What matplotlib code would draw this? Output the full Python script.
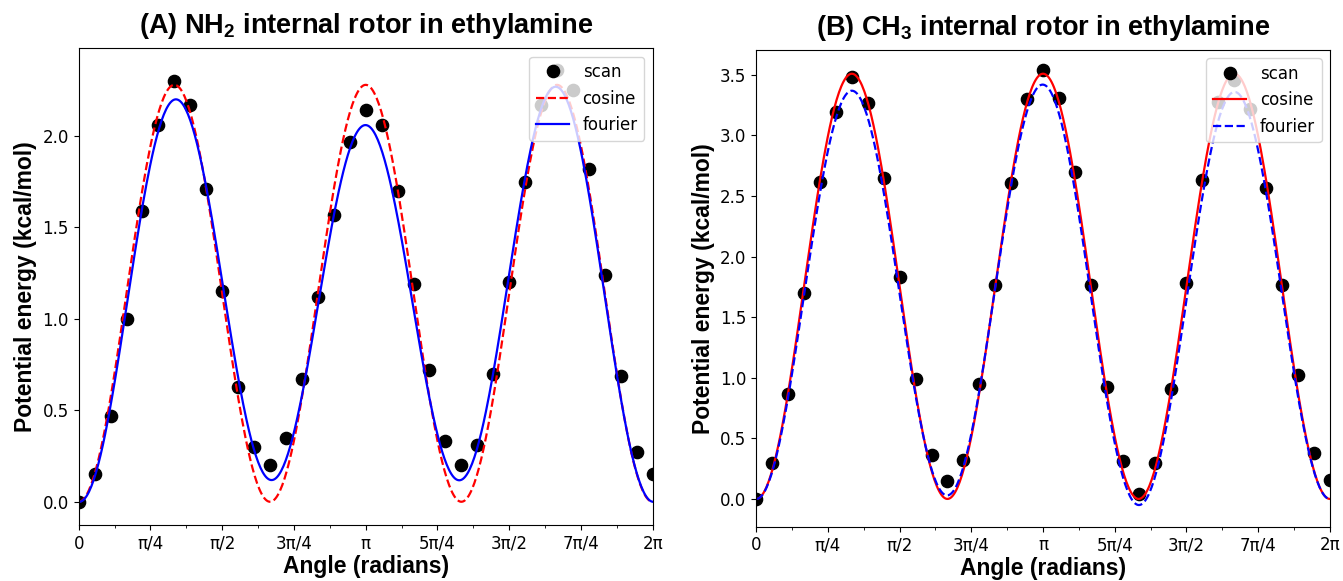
import numpy as np
import matplotlib
matplotlib.use("Agg")
import matplotlib.pyplot as plt

# 1. Torsional scans (kcal/mol), one point every 10 degrees from 0 to 360
scan_deg = np.arange(0, 370, 10)

nh2_scan = [0.00, 0.15, 0.47, 1.00, 1.59, 2.06, 2.30, 2.17, 1.71, 1.15,
            0.63, 0.30, 0.20, 0.35, 0.67, 1.12, 1.57, 1.97, 2.14, 2.06,
            1.70, 1.19, 0.72, 0.33, 0.20, 0.31, 0.70, 1.20, 1.75, 2.17,
            2.36, 2.25, 1.82, 1.24, 0.69, 0.27, 0.15]

ch3_scan = [0.00, 0.30, 0.87, 1.70, 2.62, 3.19, 3.48, 3.27, 2.65, 1.83,
            0.99, 0.36, 0.15, 0.32, 0.95, 1.77, 2.61, 3.30, 3.54, 3.31,
            2.70, 1.77, 0.92, 0.31, 0.04, 0.30, 0.91, 1.78, 2.63, 3.28,
            3.46, 3.22, 2.57, 1.77, 1.02, 0.38, 0.16]

# 2. Fitted models: cosine barrier height V0 (3-fold) and fourier coefficients
nh2_V0 = 2.28
ch3_V0 = 3.51
# V = sum a_k cos(k x) + b_k sin(k x), k = 0..3
nh2_fourier_a = [1.128, 0.018, -0.098, -1.048]
nh2_fourier_b = [0.0, -0.020, -0.020, 0.0]
ch3_fourier_a = [1.688, -0.015, 0.022, -1.695]
ch3_fourier_b = [0.0, 0.026, -0.020, 0.0]

tick_vals = np.arange(0, 9) * np.pi / 4
tick_labels = ['0', 'π/4', 'π/2', '3π/4', 'π', '5π/4', '3π/2', '7π/4', '2π']


def cosine_model(x, V0):
    return 0.5 * V0 * (1 - np.cos(3 * x))


def fourier_model(x, a, b):
    v = np.zeros_like(x)
    for k in range(len(a)):
        v += a[k] * np.cos(k * x) + b[k] * np.sin(k * x)
    return v


bold_font = {'family': 'Liberation Sans', 'weight': 'bold'}
plt.rcParams['mathtext.fontset'] = 'custom'
plt.rcParams['mathtext.rm'] = 'Liberation Sans:bold'
plt.rcParams['mathtext.default'] = 'rm'

fig = plt.figure(figsize=(13.43, 5.81), dpi=100)
ax1 = fig.add_axes([0.0586, 0.0964, 0.4274, 0.8205])
ax2 = fig.add_axes([0.5631, 0.0935, 0.4271, 0.8205])

x = np.linspace(0, 2 * np.pi, 500)
scan_rad = np.deg2rad(scan_deg)

# --- panel A: NH2 rotor ---
ax1.plot(scan_rad, nh2_scan, 'o', color='black', markersize=8.8, label='scan')
ax1.plot(x, cosine_model(x, nh2_V0), '--', color='red', linewidth=1.6, label='cosine')
ax1.plot(x, fourier_model(x, nh2_fourier_a, nh2_fourier_b), '-', color='blue',
         linewidth=1.6, label='fourier')
ax1.set_ylim(-0.127, 2.48)
ax1.set_title('(A) NH$_2$ internal rotor in ethylamine', fontsize=19.5, pad=11, **bold_font)

# --- panel B: CH3 rotor ---
ax2.plot(scan_rad, ch3_scan, 'o', color='black', markersize=8.8, label='scan')
ax2.plot(x, cosine_model(x, ch3_V0), '-', color='red', linewidth=1.6, label='cosine')
ax2.plot(x, fourier_model(x, ch3_fourier_a, ch3_fourier_b), '--', color='blue',
         linewidth=1.6, label='fourier')
ax2.set_ylim(-0.229, 3.706)
ax2.set_title('(B) CH$_3$ internal rotor in ethylamine', fontsize=19.5, pad=11, **bold_font)

for ax in (ax1, ax2):
    ax.set_xlim(0, 2 * np.pi)
    ax.set_xticks(tick_vals)
    ax.set_xticklabels(tick_labels)
    ax.set_xticks(np.arange(1, 16, 2) * np.pi / 8, minor=True)
    ax.tick_params(labelsize=12)
    ax.set_xlabel('Angle (radians)', fontsize=16.5, labelpad=2, **bold_font)
    ax.set_ylabel('Potential energy (kcal/mol)', fontsize=16.5, **bold_font)
    ax.legend(loc='upper right', fontsize=12)

ax1.set_yticks(np.arange(0, 2.1, 0.5))
ax2.set_yticks(np.arange(0, 3.6, 0.5))

fig.savefig('out.png', dpi=100)
